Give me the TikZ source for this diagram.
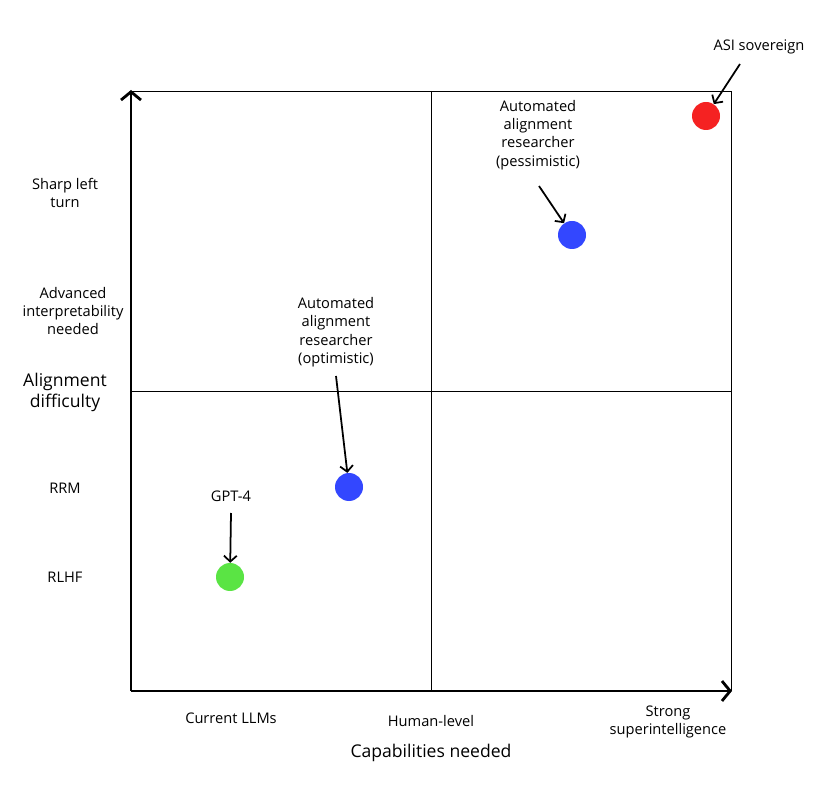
\documentclass[tikz,border=0pt]{standalone}
\usepackage{fontspec}
\setmainfont{Open Sans}
\usetikzlibrary{arrows.meta}

\definecolor{asired}{RGB}{245,34,34}
\definecolor{aarblue}{RGB}{51,71,255}
\definecolor{gptgreen}{RGB}{90,228,68}

\begin{document}
\begin{tikzpicture}[x=0.03cm, y=-0.03cm,
    lbl/.style={font=\fontsize{12.5}{15.7}\selectfont, align=center, inner sep=0pt},
    biglbl/.style={font=\fontsize{15}{18}\selectfont, align=center, inner sep=0pt},
    dot/.style={circle, minimum size=0.84cm, inner sep=0pt},
    ptr/.style={-{Straight Barb[length=5pt,width=11pt]}, line width=1.5pt},
    axis/.style={-{Straight Barb[length=7pt,width=17pt]}, line width=2.4pt},
    quad/.style={line width=0.8pt}]
    \useasboundingbox (0,0) rectangle (833,794);

    % quadrant lines
    \draw[quad] (131,91) -- (731,91) -- (731,691);
    \draw[quad] (431,91) -- (431,691);
    \draw[quad] (131,391) -- (731,391);

    % axes
    \coordinate (origin) at (131,691);
    \coordinate (ytop) at (131,90);
    \coordinate (xend) at (732,691);
    \draw[axis] (origin) -- (ytop);
    \draw[axis] (origin) -- (xend);

    % y labels
    \node[lbl] (sharp) at (65,193) {Sharp left\\turn};
    \node[lbl] (interp) at (73,311) {Advanced\\interpretability\\needed};
    \node[biglbl] (ydiff) at (65,392) {Alignment\\difficulty};
    \node[lbl] (rrm) at (65,488) {RRM};
    \node[lbl] (rlhf) at (65,577) {RLHF};

    % x labels
    \node[lbl] (llms) at (231,718) {Current LLMs};
    \node[lbl] (human) at (431,721) {Human-level};
    \node[lbl] (strong) at (668,722) {Strong\\superintelligence};
    \node[biglbl] (xcap) at (431,753) {Capabilities needed};

    % points
    \node[dot, fill=asired] (asi) at (706,116) {};
    \node[dot, fill=aarblue] (pess) at (572,235) {};
    \node[dot, fill=aarblue] (opt) at (349,487) {};
    \node[dot, fill=gptgreen] (gpt) at (230,577) {};

    % point labels
    \node[lbl] (asilbl) at (759,47) {ASI sovereign};
    \node[lbl] (pesslbl) at (538,135) {Automated\\alignment\\researcher\\(pessimistic)};
    \node[lbl] (optlbl) at (336,332) {Automated\\alignment\\researcher\\(optimistic)};
    \node[lbl] (gptlbl) at (231,496) {GPT-4};

    \coordinate (asitail) at (740,64);
    \coordinate (pesstail) at (539,186);
    \coordinate (opttail) at (336,376);
    \coordinate (gpttail) at (231,513);
    \draw[ptr] (asitail) -- (asi);
    \draw[ptr] (pesstail) -- (pess);
    \draw[ptr] (opttail) -- (opt);
    \draw[ptr] (gpttail) -- (gpt);
\end{tikzpicture}
\end{document}
